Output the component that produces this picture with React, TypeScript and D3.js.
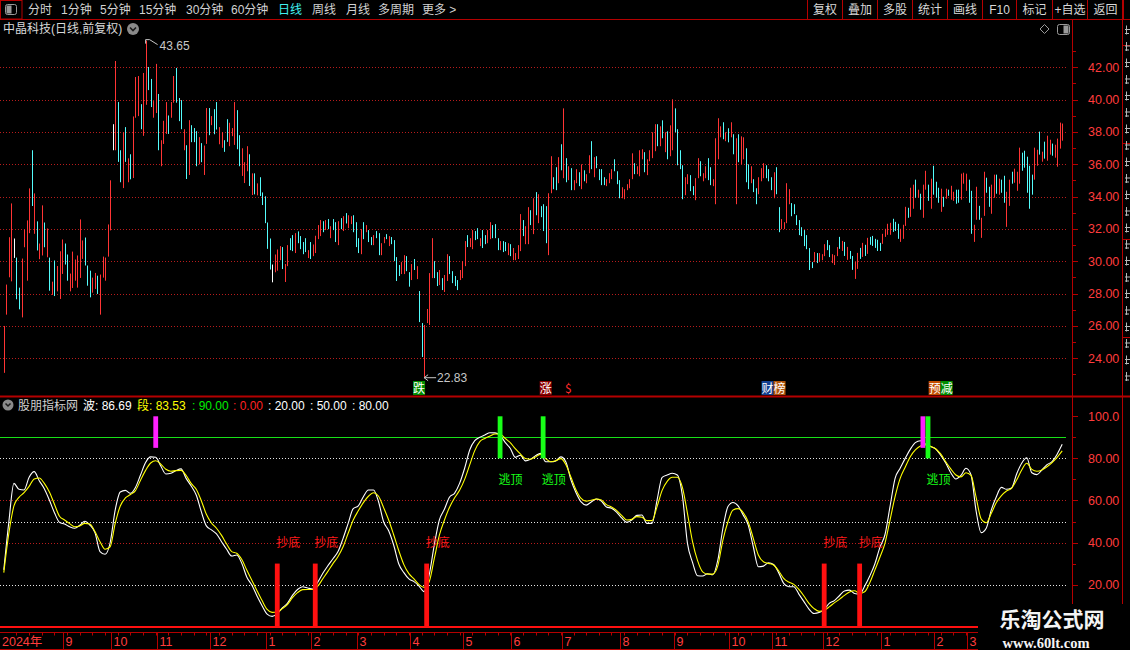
import React from 'react'
import * as d3 from 'd3'

// daily candles (high / low / colour: r = up, c = down, w = flat)
const highs = [
  26.00, 28.56, 31.49, 33.58, 31.41, 30.23, 28.37, 30.17, 31.97, 32.53,
  34.51, 36.87, 34.20, 32.47, 31.10, 33.46, 32.40, 32.03, 30.23, 28.74,
  30.05, 29.71, 30.62, 31.35, 31.10, 30.42, 29.24, 30.60, 30.11, 30.36,
  32.59, 31.29, 31.47, 29.74, 29.42, 28.99, 29.28, 29.11, 29.18, 30.29,
  30.23, 32.28, 35.01, 38.48, 42.39, 39.85, 36.87, 37.99, 38.30, 36.37,
  36.62, 38.96, 41.40, 41.46, 39.72, 41.65, 43.65, 42.02, 41.28, 39.91,
  42.21, 40.35, 37.49, 38.69, 39.85, 39.02, 39.85, 41.46, 41.96, 40.10,
  39.97, 38.17, 37.18, 38.73, 38.42, 38.24, 38.05, 37.68, 37.31, 37.16,
  39.48, 39.48, 38.98, 39.41, 39.85, 38.30, 37.99, 37.49, 38.79, 38.57,
  38.24, 39.85, 39.35, 37.80, 36.99, 36.13, 37.12, 36.62, 35.44, 35.44,
  34.82, 35.20, 34.26, 34.02, 32.40, 31.41, 29.80, 30.42, 30.73, 30.94,
  30.88, 29.83, 31.00, 31.43, 31.62, 31.74, 31.85, 31.56, 31.19, 31.43,
  30.69, 31.19, 31.04, 31.58, 32.24, 32.55, 32.48, 32.55, 32.61, 32.17,
  32.61, 32.42, 32.48, 32.67, 32.79, 32.98, 32.85, 32.79, 32.85, 32.42,
  31.43, 31.99, 32.42, 32.24, 31.93, 31.50, 31.62, 31.87, 31.74, 31.12,
  31.50, 31.68, 31.56, 31.50, 31.31, 30.26, 29.77, 29.95, 30.38, 30.32,
  29.33, 29.83, 30.14, 29.70, 28.16, 26.18, 26.06, 27.05, 29.27, 31.43,
  30.01, 29.33, 29.46, 28.96, 29.15, 30.44, 30.32, 29.39, 29.09, 28.84,
  29.46, 30.01, 31.25, 31.62, 31.43, 31.93, 31.87, 32.05, 31.43, 31.93,
  31.62, 31.93, 32.42, 32.24, 32.30, 31.43, 31.25, 31.25, 31.19, 31.12,
  31.06, 30.82, 30.51, 31.00, 32.92, 32.55, 32.17, 33.35, 33.16, 33.90,
  34.28, 34.15, 33.41, 33.53, 33.41, 34.21, 36.50, 35.20, 35.82, 36.44,
  37.24, 39.46, 36.38, 35.88, 35.76, 35.02, 35.70, 35.51, 36.00, 35.63,
  35.39, 36.56, 37.43, 36.44, 36.50, 35.70, 35.70, 35.20, 35.08, 35.45,
  35.70, 36.31, 35.57, 35.02, 34.58, 34.46, 34.77, 35.08, 36.68, 36.07,
  35.88, 36.87, 36.93, 36.75, 36.31, 36.87, 37.98, 38.48, 38.48, 38.35,
  38.72, 37.98, 38.04, 38.41, 40.02, 39.46, 38.17, 36.87, 35.94, 35.20,
  35.39, 35.33, 34.65, 35.14, 36.38, 36.19, 35.45, 35.88, 36.38, 35.82,
  35.08, 37.61, 38.85, 38.35, 38.60, 37.98, 38.23, 38.60, 37.86, 37.61,
  37.86, 37.73, 37.67, 36.99, 36.00, 35.88, 35.08, 34.52, 35.20, 35.76,
  36.07, 35.94, 35.70, 35.20, 35.51, 35.82, 33.35, 32.61, 32.42, 34.83,
  34.46, 33.60, 33.53, 32.85, 32.55, 32.11, 31.93, 31.62, 30.82, 29.95,
  30.57, 30.51, 30.51, 30.44, 31.06, 31.31, 31.00, 30.44, 30.38, 30.88,
  31.51, 31.26, 31.20, 30.89, 30.64, 30.33, 29.96, 30.52, 30.83, 31.14,
  31.02, 31.45, 31.51, 31.57, 31.39, 31.33, 31.14, 31.70, 32.01, 32.32,
  32.38, 32.63, 32.44, 32.32, 32.01, 32.26, 33.37, 33.31, 34.55, 34.74,
  35.05, 34.43, 34.18, 34.74, 35.60, 34.74, 35.11, 35.91, 34.92, 34.55,
  34.49, 33.99, 34.49, 34.43, 34.67, 34.30, 34.43, 34.43, 35.42, 35.48,
  35.42, 35.05, 34.36, 32.26, 34.61, 33.43, 32.69, 35.54, 35.17, 34.61,
  34.74, 35.36, 35.36, 35.11, 35.05, 35.29, 34.30, 35.05, 35.54, 35.73,
  35.54, 37.03, 36.72, 36.84, 36.47, 35.91, 35.36, 37.03, 36.90, 38.02,
  36.78, 37.40, 37.77, 37.52, 37.28, 37.21, 37.59, 38.58, 38.52,
]
const lows = [
  23.10, 26.70, 29.01, 28.76, 30.21, 27.65, 27.03, 26.53, 30.87, 28.80,
  31.74, 33.42, 31.70, 30.67, 30.13, 30.36, 30.87, 30.25, 28.18, 27.92,
  27.85, 28.14, 27.67, 29.22, 29.80, 28.80, 28.14, 28.35, 28.80, 28.37,
  28.97, 30.15, 29.74, 28.49, 27.77, 28.06, 28.29, 27.98, 26.70, 28.99,
  28.80, 30.29, 31.91, 36.87, 36.87, 36.15, 34.89, 34.53, 36.15, 34.89,
  35.07, 35.15, 38.88, 38.98, 38.17, 37.76, 39.68, 40.59, 39.54, 38.88,
  39.17, 36.87, 35.88, 37.26, 37.88, 37.88, 38.88, 39.81, 39.81, 38.67,
  38.17, 36.87, 35.09, 35.34, 37.37, 37.37, 35.88, 36.00, 36.13, 35.34,
  37.26, 37.80, 38.42, 37.86, 38.15, 37.24, 37.02, 36.77, 37.39, 37.12,
  37.74, 37.20, 36.93, 35.88, 35.28, 34.84, 35.57, 34.66, 34.10, 34.14,
  34.08, 34.04, 33.48, 32.36, 30.77, 29.49, 28.70, 29.32, 29.42, 30.07,
  29.52, 28.72, 29.70, 30.69, 30.63, 30.51, 31.12, 30.75, 30.44, 30.57,
  30.20, 30.14, 30.32, 30.51, 31.37, 31.56, 31.80, 31.93, 31.99, 31.43,
  31.93, 31.19, 31.00, 31.99, 31.87, 32.34, 32.05, 32.30, 31.80, 30.88,
  30.51, 30.44, 31.37, 31.80, 31.19, 31.00, 31.00, 31.43, 30.38, 30.38,
  31.12, 31.37, 30.94, 31.06, 30.01, 28.78, 29.09, 29.21, 29.21, 29.39,
  28.43, 28.84, 29.46, 28.90, 26.24, 24.08, 22.83, 26.18, 26.06, 28.96,
  28.96, 28.47, 28.53, 28.22, 28.10, 28.78, 29.21, 28.65, 28.47, 28.22,
  28.84, 28.96, 29.70, 30.88, 30.88, 30.75, 31.31, 31.37, 30.94, 30.82,
  31.06, 31.12, 31.37, 31.43, 31.43, 30.69, 30.69, 30.57, 30.63, 30.38,
  30.32, 30.07, 30.07, 30.14, 30.63, 31.56, 31.06, 31.06, 32.24, 31.68,
  32.85, 32.36, 32.73, 31.87, 31.12, 30.38, 34.21, 34.46, 34.40, 34.83,
  35.63, 35.14, 34.89, 35.02, 34.40, 34.40, 34.83, 34.65, 34.46, 34.95,
  34.83, 35.45, 35.70, 35.20, 35.76, 35.02, 34.71, 34.71, 34.65, 34.83,
  35.08, 35.57, 34.77, 33.90, 33.90, 33.84, 34.40, 34.52, 35.08, 35.39,
  35.39, 35.26, 36.31, 35.51, 35.33, 36.19, 36.38, 36.81, 37.12, 37.12,
  37.61, 36.75, 36.31, 36.50, 36.87, 37.98, 35.94, 35.70, 33.84, 34.09,
  34.77, 34.34, 34.09, 33.78, 35.14, 35.26, 34.95, 35.14, 35.02, 34.71,
  34.65, 33.53, 36.31, 37.67, 37.55, 37.43, 37.36, 37.67, 36.62, 33.53,
  36.13, 36.00, 36.31, 34.89, 34.46, 34.83, 34.28, 33.53, 34.15, 34.95,
  35.14, 35.14, 34.95, 34.40, 33.90, 34.15, 31.80, 31.99, 31.99, 32.36,
  33.53, 32.79, 32.92, 32.24, 31.62, 31.56, 30.94, 30.75, 29.46, 29.58,
  29.95, 29.89, 29.95, 30.07, 30.32, 30.69, 30.26, 29.89, 29.77, 30.32,
  30.77, 30.64, 30.33, 30.09, 30.15, 29.47, 28.91, 29.53, 30.15, 30.27,
  30.33, 30.46, 31.02, 30.95, 30.83, 30.64, 30.64, 31.08, 31.51, 31.64,
  31.64, 31.82, 31.88, 31.39, 31.20, 31.39, 32.19, 32.69, 32.75, 33.25,
  33.93, 33.93, 33.19, 32.69, 34.43, 33.74, 33.25, 34.12, 33.93, 33.62,
  33.06, 33.37, 33.87, 34.05, 33.81, 33.74, 33.56, 33.62, 33.81, 34.80,
  34.36, 33.62, 31.70, 31.20, 32.57, 32.57, 31.45, 32.81, 34.24, 33.37,
  32.94, 33.93, 34.18, 34.12, 34.24, 33.62, 32.13, 33.43, 34.80, 34.86,
  34.36, 34.80, 35.60, 35.79, 34.24, 33.25, 34.12, 35.05, 35.91, 36.60,
  36.16, 36.35, 36.22, 36.60, 36.53, 36.41, 35.85, 36.97, 37.46,
]
const tones =
  'rrrrwccrrr' + 'rcrcrrcrcr' + 'crrrccrrrr' + 'rrcccrrcrr' + 'rrrwrccrcr' +
  'crrrcrrccr' + 'rcrrrcrrcc' + 'crcrcccrcr' + 'rcrccrrccr' + 'rrccrrrcrc' +
  'rcccccwrrr' + 'crrccrcccc' + 'rcrrrrcrcr' + 'ccrcrcrrcc' + 'crcrccrccr' +
  'rcrccccrrc' + 'crcrccrrrr' + 'ccrcrrcccc' + 'rrrcrrccrc' + 'crrcccrccr' +
  'crrrrcrrcr' + 'crcccrrccr' + 'crcrcrrcrc' + 'rrcrccccrr' + 'rcccrrrrrc' +
  'rrrcrrrrcr' + 'crcrrccccr' + 'rccrrcrrcc' + 'rrrrcrcrcr' + 'crrccrccrr' +
  'rcccrccrrr' + 'rccccccccc' + 'rcrrrccrrr' + 'crcrccrrcr' + 'crcccccrrr' +
  'rcccrrrcrr' + 'crcrrcrccc' + 'rcrcrrccrr' + 'rccrrcrrcc' + 'rrcrccrrcr' +
  'rrcccccrrc' + 'rcrrcrrrr'

// 波 (white) and 段 (yellow), one reading every second candle
const wave = [
  27.0, 49.9, 68.1, 65.3, 65.0, 71.0, 73.7, 69.4, 65.6, 60.2,
  54.2, 49.6, 48.8, 47.5, 46.8, 48.2, 50.1, 48.3, 44.7, 35.7,
  34.4, 39.9, 55.5, 64.0, 64.8, 63.4, 66.2, 72.1, 78.0, 80.7,
  80.5, 76.4, 72.6, 72.9, 74.2, 75.0, 70.5, 66.9, 62.6, 54.7,
  47.9, 46.0, 44.1, 40.4, 36.8, 33.6, 34.1, 30.1, 23.5, 19.7,
  14.6, 10.0, 6.0, 4.9, 6.2, 8.9, 11.1, 14.9, 17.7, 19.0,
  18.4, 17.9, 21.2, 25.4, 29.0, 32.3, 35.7, 42.0, 49.1, 56.1,
  57.4, 61.8, 65.0, 65.0, 59.4, 49.9, 45.6, 38.7, 29.8, 25.7,
  22.7, 21.4, 19.3, 16.6, 24.6, 38.8, 50.7, 55.8, 61.5, 63.4,
  68.1, 75.3, 84.0, 88.4, 90.0, 91.1, 92.2, 92.1, 91.0, 87.6,
  84.8, 80.5, 81.5, 78.8, 79.6, 81.3, 82.4, 78.4, 78.4, 78.8,
  80.7, 78.3, 69.7, 63.7, 59.3, 57.8, 59.3, 60.7, 59.7, 56.9,
  56.3, 54.5, 51.7, 49.6, 50.7, 52.9, 53.1, 49.1, 49.1, 60.2,
  71.0, 72.1, 72.9, 72.1, 62.3, 39.6, 30.6, 24.2, 24.1, 25.2,
  24.7, 31.7, 46.8, 57.1, 59.0, 57.4, 53.1, 48.3, 38.0, 28.5,
  28.8, 30.4, 29.6, 25.7, 20.6, 19.0, 19.0, 15.5, 11.9, 8.4,
  6.3, 6.7, 8.2, 11.1, 12.4, 14.7, 17.0, 17.4, 15.8, 15.5,
  19.3, 24.1, 29.8, 37.7, 43.7, 57.1, 70.5, 75.3, 80.0, 84.3,
  87.5, 88.4, 86.8, 85.6, 84.5, 81.5, 77.8, 73.2, 70.2, 71.9,
  75.3, 72.1, 55.0, 44.7, 46.8, 55.5, 61.8, 66.2, 65.3, 65.9,
  72.6, 77.7, 80.3, 73.2, 72.3, 74.5, 77.0, 78.5, 82.0, 86.69,
]
const band = [
  25.7, 44.4, 57.4, 61.5, 63.7, 66.7, 70.2, 70.7, 68.1, 64.0,
  58.2, 52.5, 50.7, 49.0, 47.5, 47.9, 49.1, 48.8, 45.2, 40.4,
  36.8, 38.0, 49.1, 57.4, 61.2, 62.8, 64.7, 69.6, 74.3, 77.8,
  78.9, 77.3, 74.8, 73.9, 74.2, 74.3, 71.9, 68.1, 65.3, 59.9,
  53.4, 49.3, 46.8, 43.4, 39.3, 35.7, 34.9, 31.9, 26.8, 22.0,
  17.1, 12.4, 8.2, 6.8, 7.0, 8.6, 10.5, 13.8, 16.2, 17.6,
  17.7, 17.7, 19.3, 22.8, 26.3, 30.0, 33.4, 38.0, 44.4, 50.7,
  55.1, 59.0, 62.0, 63.7, 62.0, 56.6, 50.7, 43.6, 36.1, 29.5,
  25.2, 22.7, 20.0, 18.7, 21.4, 32.3, 43.4, 50.6, 56.7, 61.2,
  64.8, 70.0, 76.9, 83.7, 88.0, 89.5, 90.6, 91.6, 91.6, 89.5,
  87.5, 84.6, 82.1, 79.9, 79.6, 80.7, 81.9, 79.9, 78.4, 78.9,
  79.9, 77.0, 71.0, 65.0, 61.0, 59.7, 60.1, 60.7, 60.2, 58.0,
  56.9, 55.3, 52.9, 50.7, 51.0, 52.3, 52.0, 50.4, 50.4, 57.1,
  64.8, 69.1, 71.0, 71.0, 66.2, 53.9, 40.4, 31.4, 26.1, 25.0,
  25.0, 29.0, 41.2, 49.9, 55.5, 56.1, 54.2, 49.8, 42.0, 34.1,
  30.9, 30.1, 29.3, 26.6, 23.0, 21.2, 20.1, 17.7, 14.6, 11.1,
  8.6, 7.3, 7.8, 9.4, 11.3, 13.0, 14.9, 16.5, 17.1, 15.8,
  16.6, 20.9, 26.9, 33.0, 39.6, 50.7, 61.8, 70.5, 75.8, 80.8,
  84.0, 85.9, 86.4, 85.7, 84.6, 82.1, 78.4, 75.0, 72.1, 71.2,
  73.2, 71.9, 61.5, 51.2, 49.4, 53.9, 59.0, 62.3, 64.5, 65.8,
  69.7, 74.5, 77.7, 74.8, 73.9, 74.5, 76.0, 78.0, 80.5, 83.53,
]

// signal candles
const buyIdx = [108, 123, 167, 324, 338]   // 抄底
const sellIdx = [196, 213, 365]            // 逃顶
const warnIdx = [60, 363]                  // magenta

// event tags under the candles
const eventIdx = [164, 214, 223, 304, 370]
const eventText = ['跌', '涨', '$', '财榜', '预减']

// month axis (first candle of each month)
const monthStarts = [0, 24, 43, 61, 82, 104, 122, 140, 161, 182, 201, 221, 244, 265, 287, 304, 324, 347, 368, 381]
const monthLabels = ['2024年', '9', '10', '11', '12', '1', '2', '3', '4', '5', '6', '7', '8', '9', '10', '11', '12', '1', '2', '3']

const priceTicks = [24, 26, 28, 30, 32, 34, 36, 38, 40, 42]
const indTicks = [20, 40, 60, 80, 100]

const periodLabels = ['分时', '1分钟', '5分钟', '15分钟', '30分钟', '60分钟', '日线', '周线', '月线', '多周期', '更多 >']
const periodX = [28, 61, 100, 139, 186, 231, 278, 312, 346, 378, 422]
const buttonLabels = ['复权', '叠加', '多股', '统计', '画线', 'F10', '标记', '+自选', '返回']
const buttonEdges = [807, 842, 877, 912, 947, 982, 1016, 1052, 1087, 1123]
// the cut-off quote panel at the far right only shows slivers of glyphs
const sideBreaks = [45, 143, 239, 337]

const FONT = '"Liberation Sans", "Noto Sans CJK SC", sans-serif'
const CJK = '"Noto Sans CJK SC", sans-serif'
const BORDER = '#b40000'
const AXIS_TEXT = '#ff3c3c'

const tagStyle: Record<string, string[]> = {
  '跌': ['#008c00'],
  '涨': ['#8c0000'],
  '$': [''],
  '财榜': ['#123f90', '#b0540c'],
  '预减': ['#c44c00', '#008c00'],
}

export default function App() {
  const x = d3.scaleLinear().domain([0, highs.length - 1]).range([3.8, 1062.2])
  const step = x(1) - x(0)
  const yP = d3.scaleLinear().domain([24, 42]).range([358.3, 67.3])
  const yI = d3.scaleLinear().domain([0, 100]).range([626.7, 416.3])
  const toneColor: Record<string, string> = { r: '#ff3434', c: '#54fcfc', w: '#ffffff' }

  const ind = d3.line<number>()
    .x((_, k) => x(k * 2))
    .y(v => yI(v))
    .curve(d3.curveMonotoneX)

  const hiIdx = d3.maxIndex(highs)
  const loIdx = d3.minIndex(lows)

  return (
    <div style={{ position: 'absolute', left: 0, top: 0, width: 1130, height: 650, background: '#000' }}>
      <style>{'body{margin:0;background:#000}'}</style>
      <svg width={1130} height={650} style={{ display: 'block', fontFamily: FONT }}>
        <rect width={1130} height={650} fill="#000" />

        {/* toolbar */}
        <rect x={0.5} y={0.5} width={21.5} height={18.5} fill="none" stroke={BORDER} />
        <rect x={5.5} y={4.5} width={11} height={10} rx={2} fill="none" stroke="#9a9a9a" />
        <rect x={6.5} y={5.5} width={5} height={8} fill="#9a9a9a" />
        {periodLabels.map((t, i) => (
          <text key={t + i} x={periodX[i]} y={14} fontSize={12}
            fill={t === '日线' ? '#40f0f0' : '#d2d2d2'}>{t}</text>
        ))}
        {buttonEdges.map((bx, i) => (
          <line key={'be' + i} x1={bx + 0.5} x2={bx + 0.5} y1={0} y2={19} stroke={BORDER} />
        ))}
        {buttonLabels.map((t, i) => (
          <text key={t} x={(buttonEdges[i] + buttonEdges[i + 1]) / 2 + 0.5} y={14} fontSize={12}
            textAnchor="middle" fill="#d8d8d8">{t}</text>
        ))}
        <line x1={0} x2={1130} y1={19.5} y2={19.5} stroke={BORDER} />

        {/* title row */}
        <text x={3} y={33} fontSize={12} fill="#d8d8d8">中晶科技(日线,前复权)</text>
        <circle cx={133} cy={29} r={6} fill="#8a8a8a" />
        <path d="M130,27.5 L133,30.5 L136,27.5" fill="none" stroke="#1a1a1a" strokeWidth={1.6} />
        <path d="M1044.5,24.5 L1049,29 L1044.5,33.5 L1040,29 Z" fill="none" stroke="#9a9a9a" />
        <rect x={1057.5} y={24.5} width={12} height={10} rx={2} fill="none" stroke="#9a9a9a" />
        <rect x={1063.5} y={25.5} width={5} height={8} fill="#9a9a9a" />

        {/* price grid */}
        {priceTicks.map(v => (
          <line key={'pg' + v} x1={0} x2={1066} y1={Math.round(yP(v)) + 0.5} y2={Math.round(yP(v)) + 0.5}
            stroke="#b81c1c" strokeDasharray="1 2" />
        ))}

        {/* candles */}
        {highs.map((h, i) => {
          const cx = Math.round(x(i)) + 0.5
          const y1 = yP(h)
          const y2 = Math.max(yP(lows[i]), y1 + 1)
          return <line key={'c' + i} x1={cx} x2={cx} y1={y1} y2={y2}
            stroke={toneColor[tones[i]]} strokeWidth={1} />
        })}

        {/* high / low markers */}
        <path d={`M${x(hiIdx)},${yP(highs[hiIdx]) - 1} L${x(hiIdx)},${yP(highs[hiIdx]) + 3} M${x(hiIdx)},${yP(highs[hiIdx]) - 1} L${x(hiIdx) + 4},${yP(highs[hiIdx]) - 1} L${x(hiIdx) + 12},${yP(highs[hiIdx]) + 4}`}
          fill="none" stroke="#c8c8c8" />
        <text x={x(hiIdx) + 14} y={yP(highs[hiIdx]) + 9.5} fontSize={12} fill="#c8c8c8">{highs[hiIdx].toFixed(2)}</text>
        <path d={`M${x(loIdx)},${yP(lows[loIdx]) + 0.5} L${x(loIdx) + 12},${yP(lows[loIdx]) + 0.5} M${x(loIdx)},${yP(lows[loIdx]) + 0.5} L${x(loIdx) + 4},${yP(lows[loIdx]) - 2.5} M${x(loIdx)},${yP(lows[loIdx]) + 0.5} L${x(loIdx) + 4},${yP(lows[loIdx]) + 3.5}`}
          fill="none" stroke="#c8c8c8" />
        <text x={x(loIdx) + 13} y={yP(lows[loIdx]) + 5} fontSize={12} fill="#c8c8c8">{lows[loIdx].toFixed(2)}</text>

        {/* event tags */}
        {eventIdx.map((ei, n) => {
          const t = eventText[n]
          const chars = Array.from(t)
          const left = x(ei) - chars.length * 6
          return (
            <g key={'ev' + n}>
              {chars.map((ch, j) => {
                const bg = tagStyle[t][j]
                return (
                  <g key={j}>
                    {bg ? <rect x={left + j * 12} y={381} width={12} height={14} fill={bg} /> : null}
                    <text x={left + j * 12 + 6} y={392.5} fontSize={12} textAnchor="middle"
                      fontFamily={CJK} fill={bg ? '#ffffff' : '#ff2a2a'}>{ch}</text>
                  </g>
                )
              })}
            </g>
          )
        })}

        {/* panel separators */}
        <rect x={0} y={395.5} width={1130} height={2} fill={BORDER} />
        <line x1={1072.5} x2={1072.5} y1={19} y2={649} stroke={BORDER} />
        <line x1={1122.5} x2={1122.5} y1={0} y2={649} stroke={BORDER} />

        {/* cut-off side panel: separators and glyph slivers */}
        {sideBreaks.map(sy => (
          <line key={'sb' + sy} x1={1123} x2={1130} y1={sy + 0.5} y2={sy + 0.5} stroke={BORDER} />
        ))}
        {d3.range(0, 22).map(n => (
          <path key={'sg' + n}
            d={`M1125,${29.5 + n * 16.5} h5 M1126.5,${25.5 + n * 16.5} v9 M1125,${33.5 + n * 16.5} h4`}
            fill="none" stroke="#b8b8b8" strokeWidth={1} />
        ))}

        {/* price axis */}
        {d3.range(23, 44).map(v => (
          <line key={'pt' + v} x1={1073} x2={v % 2 === 0 ? 1078 : 1076}
            y1={Math.round(yP(v)) + 0.5} y2={Math.round(yP(v)) + 0.5} stroke={BORDER} />
        ))}
        {priceTicks.map(v => (
          <text key={'pl' + v} x={1088} y={yP(v) + 4.5} fontSize={12.5} fill={AXIS_TEXT}>{v.toFixed(2)}</text>
        ))}

        {/* indicator header */}
        <circle cx={8} cy={405} r={5.5} fill="#8a8a8a" />
        <path d="M5.5,403.5 L8,406 L10.5,403.5" fill="none" stroke="#1a1a1a" strokeWidth={1.5} />
        <text x={18} y={409.5} fontSize={12} fill="#cfcfcf">股朋指标网</text>
        <text x={83} y={409.5} fontSize={12} fill="#ffffff">波: {wave[wave.length - 1].toFixed(2)}</text>
        <text x={137} y={409.5} fontSize={12} fill="#ffff00">段: {band[band.length - 1].toFixed(2)}</text>
        <text x={192} y={409.5} fontSize={12} fill="#00ee00">: 90.00</text>
        <text x={233} y={409.5} fontSize={12} fill="#ff2020">: 0.00</text>
        <text x={268} y={409.5} fontSize={12} fill="#ffffff">: 20.00</text>
        <text x={310} y={409.5} fontSize={12} fill="#ffffff">: 50.00</text>
        <text x={352} y={409.5} fontSize={12} fill="#ffffff">: 80.00</text>

        {/* indicator grid and reference lines */}
        {[60, 40].map(v => (
          <line key={'ig' + v} x1={0} x2={1066} y1={Math.round(yI(v)) + 0.5} y2={Math.round(yI(v)) + 0.5}
            stroke="#b81c1c" strokeDasharray="1 2" />
        ))}
        {[80, 50, 20].map(v => (
          <line key={'ir' + v} x1={0} x2={1066} y1={Math.round(yI(v)) + 0.5} y2={Math.round(yI(v)) + 0.5}
            stroke="#e6e6e6" strokeDasharray="1 2" />
        ))}
        <line x1={0} x2={1066} y1={Math.round(yI(90)) + 0.5} y2={Math.round(yI(90)) + 0.5} stroke="#18e018" />

        {/* indicator lines */}
        <path d={ind(wave) || ''} fill="none" stroke="#ffffff" strokeWidth={1.1} />
        <path d={ind(band) || ''} fill="none" stroke="#ffff00" strokeWidth={1.1} />

        {/* signals */}
        {warnIdx.map(i => (
          <rect key={'w' + i} x={x(i) - 2.4} y={yI(100)} width={4.8} height={yI(85) - yI(100)} fill="#ff20ff" />
        ))}
        {sellIdx.map(i => (
          <g key={'s' + i}>
            <rect x={x(i) - 2.4} y={yI(100)} width={4.8} height={yI(80) - yI(100)} fill="#18ff18" />
            <text x={x(i) - 1.5} y={yI(70) + 4.5} fontSize={12} fontFamily={CJK} fill="#18ff18">逃顶</text>
          </g>
        ))}
        {buyIdx.map(i => (
          <g key={'b' + i}>
            <rect x={x(i) - 2.4} y={yI(30)} width={4.8} height={yI(0) - yI(30)} fill="#ff1010" />
            <text x={x(i) - 1} y={yI(40) + 4.5} fontSize={12} fontFamily={CJK} fill="#ff1a1a">抄底</text>
          </g>
        ))}
        <rect x={0} y={626} width={1072} height={2} fill="#ff1010" />

        {/* indicator axis */}
        {d3.range(10, 101, 10).map(v => (
          <line key={'it' + v} x1={1073} x2={v % 20 === 0 ? 1078 : 1076}
            y1={Math.round(yI(v)) + 0.5} y2={Math.round(yI(v)) + 0.5} stroke={BORDER} />
        ))}
        {indTicks.map(v => (
          <text key={'il' + v} x={1088} y={yI(v) + 4.5} fontSize={12.5} fill={AXIS_TEXT}>
            {v === 100 ? '100.0' : v.toFixed(2)}
          </text>
        ))}

        {/* date axis */}
        <line x1={0} x2={1123} y1={632.5} y2={632.5} stroke={BORDER} />
        <line x1={0} x2={1123} y1={649.5} y2={649.5} stroke={BORDER} />
        {d3.range(5, highs.length, 5).map(i => (
          <line key={'dt' + i} x1={Math.round(x(i)) + 0.5} x2={Math.round(x(i)) + 0.5} y1={633} y2={635.5} stroke={BORDER} />
        ))}
        {monthStarts.map((i, n) => {
          const sx = Math.round(x(i) - step / 2) + 0.5
          return (
            <g key={'m' + n}>
              {n > 0 ? <line x1={sx} x2={sx} y1={633} y2={649} stroke={BORDER} /> : null}
              <text x={n > 0 ? sx + 2 : 2} y={646} fontSize={12.5} fill={AXIS_TEXT}>{monthLabels[n]}</text>
            </g>
          )
        })}

        {/* watermark */}
        <rect x={978} y={604} width={152} height={46} fill="#000" />
        <text x={1052} y={627} fontSize={21} fontWeight="bold" textAnchor="middle" fontFamily={CJK} fill="#f4f4f4">乐淘公式网</text>
        <text x={1046} y={648} fontSize={14.5} fontWeight="bold" textAnchor="middle"
          fontFamily='"Liberation Serif", serif' fill="#f4f4f4">www.60lt.com</text>
      </svg>
    </div>
  )
}
